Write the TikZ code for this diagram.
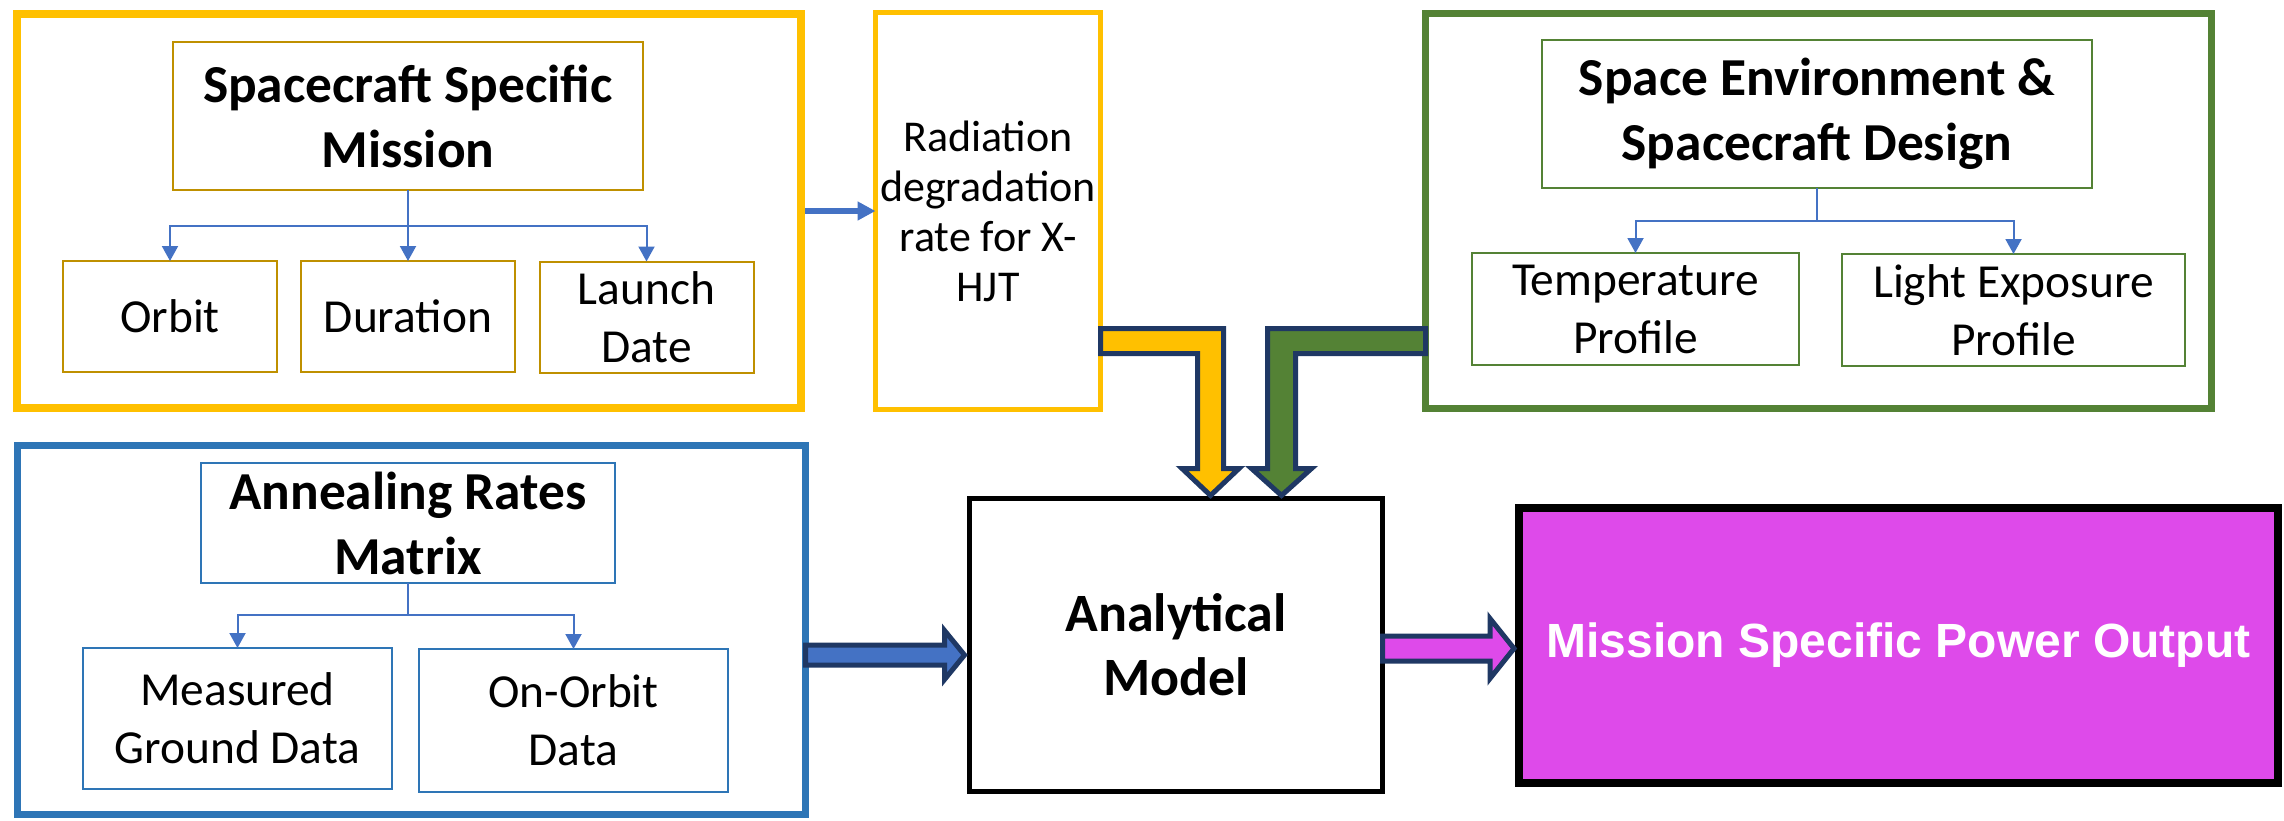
\documentclass[tikz,border=0pt]{standalone}
\usepackage{fontspec}
\setmainfont{Carlito}
\newfontfamily\arialfont{Liberation Sans}
\usetikzlibrary{calc}
\usetikzlibrary{arrows.meta}
\definecolor{gold}{HTML}{FFC000}
\definecolor{darkgold}{HTML}{BF9000}
\definecolor{leaf}{HTML}{548235}
\definecolor{steel}{HTML}{2E75B6}
\definecolor{cobalt}{HTML}{4472C4}
\definecolor{navy}{HTML}{1F3864}
\definecolor{orchid}{HTML}{DE4AEA}
\newcommand\itemfont{\fontsize{23.7}{29}\selectfont}
\newcommand\headfont{\fontsize{26.7}{32.5}\selectfont\bfseries}
\newcommand\ratefont{\fontsize{22}{25}\selectfont}
\newcommand\modelfont{\fontsize{27}{32}\selectfont\bfseries}
\newcommand\outfont{\arialfont\bfseries\fontsize{24}{28}\selectfont}
% block arrow to the right: start, tip, fill, shaft half, head half, head length
\newcommand\flatarrow[6]{%
  \filldraw[block,fill=#3] ($(#1)+(0,-#4)$) -- ($(#2)+(-#6,-#4)$) -- ($(#2)+(-#6,-#5)$) -- (#2)
    -- ($(#2)+(-#6,#5)$) -- ($(#2)+(-#6,#4)$) -- ($(#1)+(0,#4)$) -- cycle;}
% bent block arrow, sideways then down: start, tip, fill, shaft half, head half (signed)
\newcommand\bentarrow[5]{%
  \filldraw[block,fill=#3] ($(#1)+(0,-12.5)$) -- ($(#1 -| #2)+(#4,-12.5)$) -- ($(#2)+(#4,-27)$)
    -- ($(#2)+(#5,-27)$) -- (#2) -- ($(#2)-(#5,27)$) -- ($(#2)-(#4,27)$)
    -- ($(#1 -| #2)-(#4,-12.5)$) -- ($(#1)+(0,12.5)$) -- cycle;}
\tikzset{
  groupbox/.style={draw,inner sep=0pt,outer sep=0pt,align=center},
  itembox/.style={draw,line width=1pt,inner sep=0pt,outer sep=0pt,align=center,font=\itemfont},
  headbox/.style={itembox,font=\headfont},
  dims/.style 2 args={minimum width=#1*0.5pt,minimum height=#2*0.5pt},
  link/.style={draw=cobalt,line width=1pt,-{Triangle[length=7.5pt,width=8pt]}},
  feed/.style={draw=cobalt,line width=3pt,-{Triangle[length=9pt,width=9pt]}},
  block/.style={draw=navy,line width=2.5pt,line join=miter},
}

\begin{document}
\begin{tikzpicture}[x=0.5pt,y=-0.5pt]
\useasboundingbox (0,0) rectangle (2284,820);
% mission group
\node[groupbox,draw=gold,line width=4pt,dims={784}{394}] (scGroup) at (409,211) {};
\node[headbox,draw=darkgold,dims={470}{148}] (scTitle) at (408,116) {Spacecraft Specific\\Mission};
\node[itembox,draw=darkgold,dims={214}{111}] (orbit) at (170,316.5) {Orbit};
\node[itembox,draw=darkgold,dims={214}{111}] (duration) at (408,316.5) {Duration};
\node[itembox,draw=darkgold,dims={214}{111}] (launch) at (646.5,317) {Launch\\Date};
\foreach \c in {orbit,duration,launch}
  \draw[link] (scTitle.south) -- ++(0,36) -| (\c.north);
\node[groupbox,draw=gold,line width=2.5pt,dims={225}{397},font=\ratefont] (radiation) at (988,211)
  {Radiation\\degradation\\rate for X-\\HJT};
\draw[feed,shorten <=2pt] (scGroup.east) -- (radiation.west);
% environment group
\node[groupbox,draw=leaf,line width=3.5pt,dims={786}{395}] (envGroup) at (1818.5,211) {};
\node[headbox,draw=leaf,dims={550}{148}] (envTitle) at (1817,114) {Space Environment \&\\Spacecraft Design};
\node[itembox,draw=leaf,dims={327}{112}] (temp) at (1635.5,309) {Temperature\\Profile};
\node[itembox,draw=leaf,dims={343}{112}] (light) at (2013.5,310) {Light Exposure\\Profile};
\foreach \c in {temp,light}
  \draw[link] (envTitle.south) -- ++(0,33) -| (\c.north);
% annealing group
\node[groupbox,draw=steel,line width=3.5pt,dims={788}{369}] (annGroup) at (411.5,630) {};
\node[headbox,draw=steel,dims={414}{120}] (annTitle) at (408,523) {Annealing Rates\\Matrix};
\node[itembox,draw=steel,dims={309}{141}] (measured) at (237.5,718.5) {Measured\\Ground Data};
\node[itembox,draw=steel,dims={309}{143}] (onorbit) at (573.5,720.5) {On-Orbit\\Data};
\foreach \c in {measured,onorbit}
  \draw[link] (annTitle.south) -- ++(0,32) -| (\c.north);
% model and output
\node[groupbox,draw=black,line width=2.5pt,dims={413}{293},font=\modelfont] (analytical) at (1176,645) {Analytical\\Model};
\node[groupbox,draw=black,fill=orchid,line width=4pt,dims={759}{275},text=white,font=\outfont] (mission) at (1898.5,645.5)
  {Mission Specific Power Output};
% block arrows
\coordinate (radOut) at ($(radiation.east)+(0,130)$);
\coordinate (envOut) at ($(envGroup.west)+(0,130)$);
\coordinate (radTip) at ($(analytical.north)+(34.5,-3)$);
\coordinate (envTip) at ($(analytical.north)+(105.5,-3)$);
\coordinate (annTip) at ($(analytical.west)+(-5,10)$);
\coordinate (outTip) at ($(mission.west)+(-5,3)$);
\bentarrow{radOut}{radTip}{gold}{13}{28.5}
\bentarrow{envOut}{envTip}{leaf}{-14}{-30}
\flatarrow{annGroup.east |- annTip}{annTip}{cobalt}{10}{24.5}{20}
\flatarrow{analytical.east |- outTip}{outTip}{orchid}{12.5}{30}{24}
\end{tikzpicture}
\end{document}
